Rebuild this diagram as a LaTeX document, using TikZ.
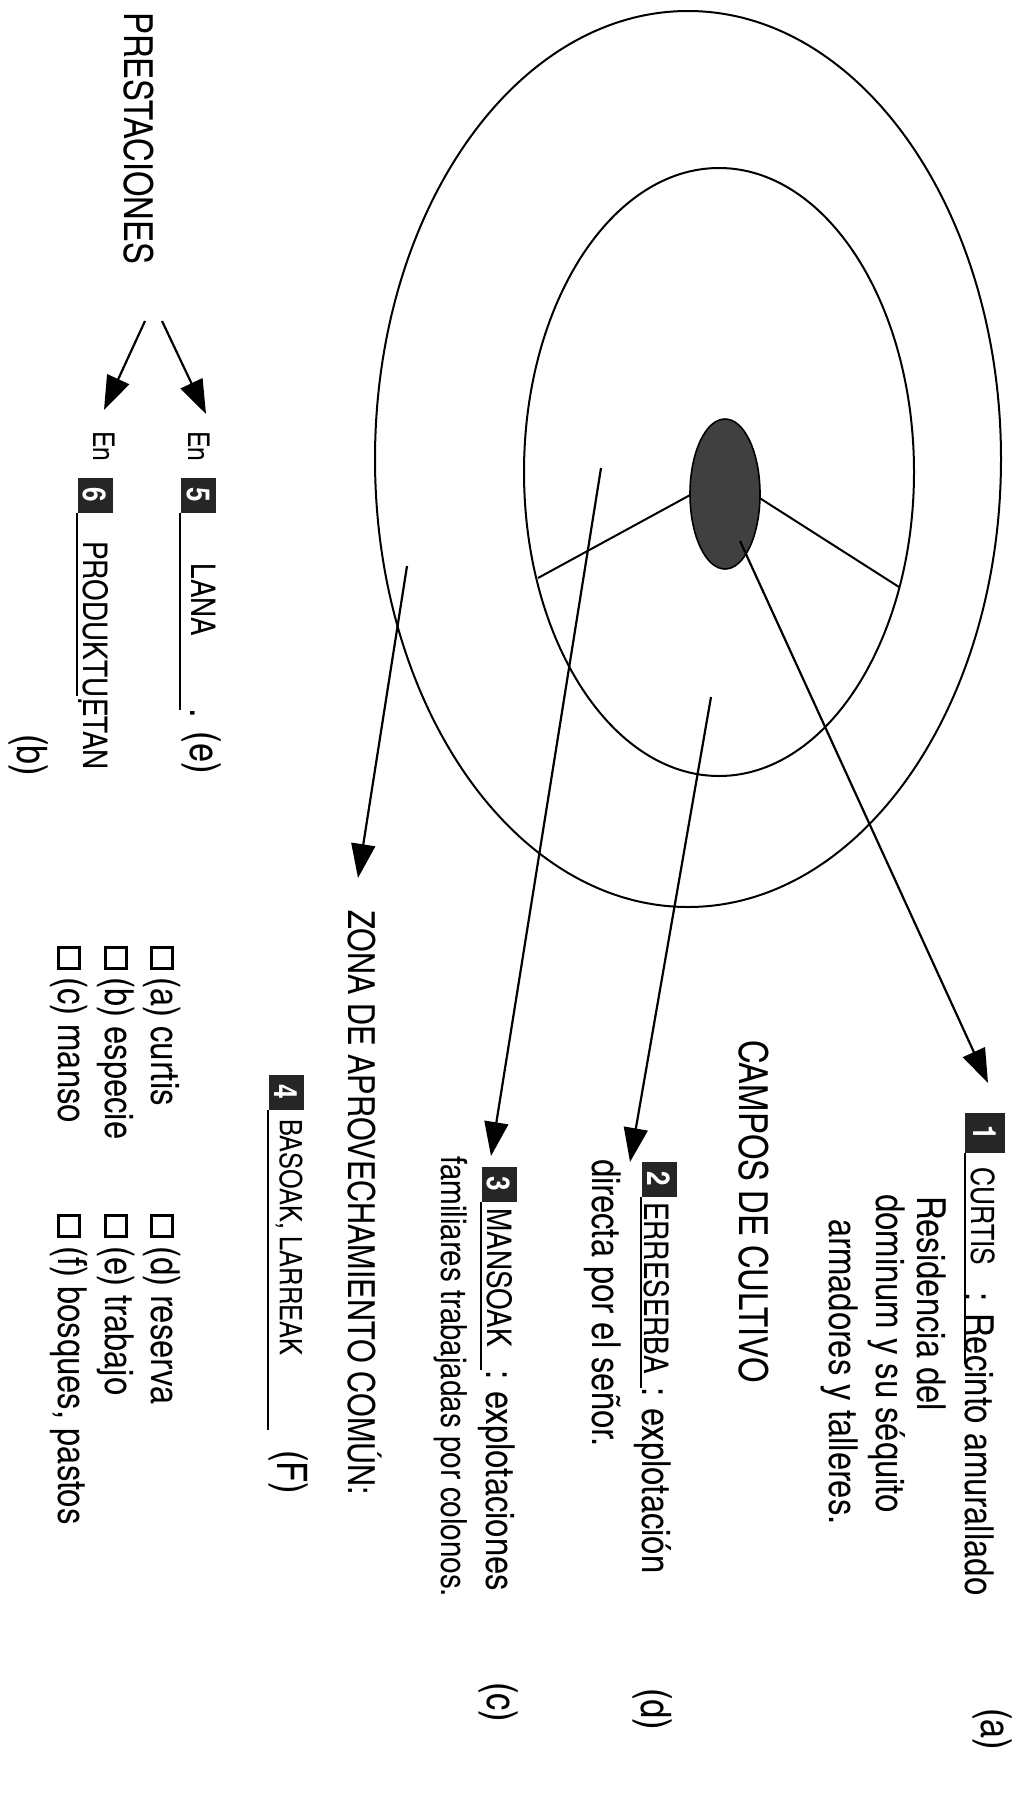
\documentclass[tikz,border=0pt]{standalone}
\usepackage{fontspec}
\IfFontExistsTF{texgyreheroscn-regular.otf}
  {\setmainfont{texgyreheroscn-regular.otf}[BoldFont=texgyreheroscn-bold.otf]}
  {\setmainfont{Carlito}}
\usetikzlibrary{arrows.meta}
\newsavebox\fitbox
\newlength\fitlen
\def\fitlo{30}\def\fithi{40}
\makeatletter
\newcommand{\fitw}[2]{\sbox\fitbox{#2}\setlength\fitlen{\wd\fitbox}%
  \edef\fitsz{\fpeval{round(min(max(\f@size*#1/\fitlen,\fitlo),\fithi),3)}}%
  {\fontsize{\fitsz}{\fitsz}\selectfont #2}}
\makeatother
\newcommand{\rt}[2]{\rotatebox{-90}{\fitw{#1}{#2}}}
\begin{document}
\begin{tikzpicture}[x=1pt,y=-1pt,
  txt/.style={anchor=north, inner sep=0pt, font=\fontsize{40}{42}\selectfont\def\fitlo{34}\def\fithi{40}},
  hand/.style={anchor=north, inner sep=0pt, font=\fontsize{33}{35}\selectfont\def\fitlo{27}\def\fithi{34}},
  paren/.style={anchor=north, inner sep=0pt, font=\fontsize{38}{40}\selectfont\def\fitlo{34}\def\fithi{42}},
  entxt/.style={anchor=north, inner sep=0pt, font=\fontsize{30}{32}\selectfont},
  numbox/.style={fill=black!85, text=white, font=\bfseries\fontsize{32}{32}\selectfont, minimum size=35pt, inner sep=0pt},
  arr/.style={line width=2.2pt, -{Triangle[length=34pt,width=24pt]}},
  ring/.style={line width=2pt},
  chk/.style={draw, line width=2.6pt, minimum size=21pt, inner sep=0pt},
  uline/.style={line width=2.2pt}]
\fill[white] (0,0) rectangle (1031,1812);
\useasboundingbox (0,0) rectangle (1031,1812);

% rings
\draw[ring] (688,459) ellipse [x radius=313, y radius=448];
\draw[ring] (719,472) ellipse [x radius=195, y radius=304];
\coordinate (rl0) at (692,494);
\coordinate (rl1) at (538,578);
\coordinate (rr0) at (758,497);
\coordinate (rr1) at (899,587);
\draw[ring] (rl0) -- (rl1);
\draw[ring] (rr0) -- (rr1);
\fill[black!75] (725,494) ellipse [x radius=35, y radius=75];
\draw[line width=1.6pt] (725,494) ellipse [x radius=35, y radius=75];

% arrow start/end points
\coordinate (s1) at (740,541);
\coordinate (t1) at (988,1083);
\coordinate (s2) at (711,697);
\coordinate (t2) at (630,1162);
\coordinate (s3) at (601,468);
\coordinate (t3) at (491,1156);
\coordinate (s4) at (407,566);
\coordinate (t4) at (358,878);
\draw[arr] (s1) -- (t1);
\draw[arr] (s2) -- (t2);
\draw[arr] (s3) -- (t3);
\draw[arr] (s4) -- (t4);

% PRESTACIONES
\node[txt] (prest) at (139,12) {\rt{283}{PRESTACIONES}};
\coordinate (p0a) at (162,321);
\coordinate (p1a) at (206,414);
\coordinate (p0b) at (145,321);
\coordinate (p1b) at (104,410);
\draw[arr] (p0a) -- (p1a);
\draw[arr] (p0b) -- (p1b);

\node[entxt] (en5) at (199,431) {\rotatebox{-90}{En}};
\node[numbox] (b5) at (198,495) {\rotatebox{-90}{5}};
\draw[uline] (b5.south west) -- ++(0,197);
\node[hand] (lana) at (204,563) {\rt{96}{LANA}};
\node[paren] (e5) at (202,708) {\rt{90}{.\,\,(e)}};

\node[entxt] (en6) at (104,431) {\rotatebox{-90}{En}};
\node[numbox] (b6) at (95,495) {\rotatebox{-90}{6}};
\draw[uline] (b6.south west) -- ++(0,183);
\node[hand] (prod) at (96,541) {\rt{268}{PRODUKTUETAN}};
\node[hand] (dot6) at (80,697) {\rotatebox{-90}{.}};
\node[paren] (b6l) at (29,734) {\rt{69}{(b)}};

% 1 CURTIS
\node[numbox, minimum size=40pt] (b1) at (985,1133) {\rotatebox{-90}{1}};
\draw[uline] (b1.south west) -- ++(0,211);
\node[hand] (curtis) at (983,1167) {\rt{98}{CURTIS}};
\node[txt] (rec) at (980,1292) {\rt{395}{: Recinto amurallado}};
\node[paren] (a1) at (993,1708) {\rt{89}{(a)}};
\node[txt] (res) at (932,1196) {\rt{216}{Residencia del}};
\node[txt] (dom) at (887,1194) {\rt{332}{dominum y su séquito}};
\node[txt] (arm) at (840,1219) {\rt{332}{armadores y talleres.}};

\node[txt] (campos) at (754,1040) {\rt{366}{CAMPOS DE CULTIVO}};

% 2 ERRESERBA
\node[numbox] (b2) at (659,1179) {\rotatebox{-90}{2}};
\draw[uline] (b2.south west) -- ++(0,191);
\node[hand] (erre) at (657,1202) {\rt{179}{ERRESERBA}};
\node[txt] (expl) at (653,1387) {\rt{268}{: explotación}};
\node[paren] (d2) at (653,1688) {\rt{72}{(d)}};
\node[txt] (dir) at (603,1159) {\rt{299}{directa por el señor.}};

% 3 MANSOAK
\node[numbox] (b3) at (499,1184) {\rotatebox{-90}{3}};
\draw[uline] (b3.south west) -- ++(0,168);
\node[hand] (mans) at (500,1208) {\rt{144}{MANSOAK}};
\node[txt] (expls) at (497,1370) {\rt{303}{: explotaciones}};
\node[paren] (c3) at (499,1682) {\rt{50}{(c)}};
\node[txt] (fam) at (451,1156) {\rt{441}{familiares trabajadas por colonos.}};

% ZONA
\node[txt] (zona) at (365,910) {\rt{585}{ZONA DE APROVECHAMIENTO COMÚN:}};
\node[numbox] (b4) at (286,1092) {\rotatebox{-90}{4}};
\draw[uline] (b4.south west) -- ++(0,320);
\node[hand] (bas) at (289,1119) {\rt{236}{BASOAK, LARREAK}};
\node[paren] (f4) at (289,1450) {\rt{66}{(F)}};

% checklist
\node[chk] (ca) at (162,958) {};
\node[txt] (ta) at (162,977) {\rt{191}{(a) curtis}};
\node[chk] (cb) at (116,958) {};
\node[txt] (tb) at (116,977) {\rt{237}{(b) especie}};
\node[chk] (cc) at (69,958) {};
\node[txt] (tc) at (69,977) {\rt{214}{(c) manso}};
\node[chk] (cd) at (162,1226) {};
\node[txt] (td) at (162,1246) {\rt{222}{(d) reserva}};
\node[chk] (ce) at (116,1226) {};
\node[txt] (te) at (116,1246) {\rt{220}{(e) trabajo}};
\node[chk] (cf) at (69,1226) {};
\node[txt] (tf) at (69,1246) {\rt{534}{(f) bosques, pastos}};
\end{tikzpicture}
\end{document}
